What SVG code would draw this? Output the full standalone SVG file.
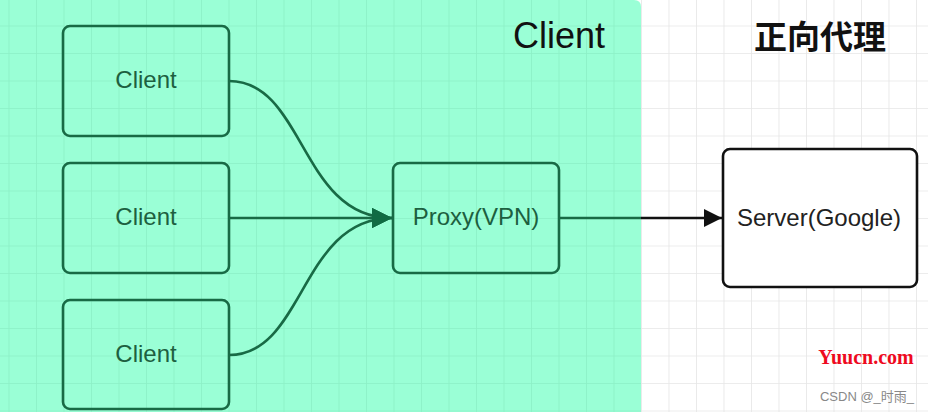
<svg xmlns="http://www.w3.org/2000/svg" width="928" height="412" viewBox="0 0 928 412">
<defs>
<pattern id="gridW" patternUnits="userSpaceOnUse" x="8.5" y="-2" width="27.5" height="27.5">
<path d="M0,0 V27.5 M0,0 H27.5" stroke="#e6e6e6" stroke-width="1.6" fill="none"/>
</pattern>
<pattern id="gridG" patternUnits="userSpaceOnUse" x="8.5" y="-2" width="27.5" height="27.5">
<path d="M0,0 V27.5 M0,0 H27.5" stroke="#8cf0c6" stroke-width="1.6" fill="none"/>
</pattern>
<marker id="arrG" viewBox="0 0 10 10" refX="10" refY="5" markerUnits="userSpaceOnUse" markerWidth="22" markerHeight="20" orient="auto">
<path d="M0,0 L10,5 L0,10 z" fill="#106b43"/>
</marker>
<marker id="arrK" viewBox="0 0 10 10" refX="10" refY="5" markerUnits="userSpaceOnUse" markerWidth="22" markerHeight="18" orient="auto">
<path d="M0,0 L10,5 L0,10 z" fill="#111"/>
</marker>
<style>
.node rect.g{fill:none;stroke:#186a45;stroke-width:2.6}
.node rect.k{fill:#fff;stroke:#111;stroke-width:2.6}
.lbl{font-family:"Liberation Sans",Arial,sans-serif;font-size:24px;text-anchor:middle}
.lg{fill:#1d5f40}
.lk{fill:#222}
.conn path{fill:none;stroke-width:2.6}
</style>
</defs>
<rect x="0" y="0" width="928" height="412" fill="#fff"/>
<rect x="0" y="0" width="928" height="412" fill="url(#gridW)"/>
<path d="M0,0 H634 Q641,0 641,7 V412 H0 z" fill="#9affd6"/>
<path d="M0,0 H634 Q641,0 641,7 V412 H0 z" fill="url(#gridG)"/>
<text x="559" y="48" font-family="'Liberation Sans',Arial,sans-serif" font-size="36" fill="#111" text-anchor="middle">Client</text>
<text x="820" y="49" font-family="'Noto Sans CJK SC',sans-serif" font-size="33" font-weight="bold" fill="#111" text-anchor="middle">正向代理</text>
<g class="conn">
<path d="M229,81 C305,81 300,218 392,218" stroke="#186a45" marker-end="url(#arrG)"/>
<path d="M229,218 H392" stroke="#186a45" marker-end="url(#arrG)"/>
<path d="M229,355 C305,355 300,218 392,218" stroke="#186a45" marker-end="url(#arrG)"/>
<path d="M559,218 H641" stroke="#186a45"/>
<path d="M641,218 H722" stroke="#111" marker-end="url(#arrK)"/>
</g>
<g id="client1" class="node"><rect class="g" x="63" y="26" width="166" height="110" rx="7"/><text class="lbl lg" x="146" y="88">Client</text></g>
<g id="client2" class="node"><rect class="g" x="63" y="163" width="166" height="110" rx="7"/><text class="lbl lg" x="146" y="225">Client</text></g>
<g id="client3" class="node"><rect class="g" x="63" y="300" width="166" height="109" rx="7"/><text class="lbl lg" x="146" y="362">Client</text></g>
<g id="proxy" class="node"><rect class="g" x="393" y="163" width="166" height="110" rx="7"/><text class="lbl lg" x="476" y="225">Proxy(VPN)</text></g>
<g id="server" class="node"><rect class="k" x="723" y="149" width="194" height="138" rx="7"/><text class="lbl lk" x="819" y="226">Server(Google)</text></g>
<text x="866" y="364" font-family="'Liberation Serif',serif" font-size="20" font-weight="bold" fill="#ee0a1e" text-anchor="middle">Yuucn.com</text>
<text x="867" y="401" font-family="'Liberation Sans','Noto Sans CJK SC',sans-serif" font-size="13" fill="#888" text-anchor="middle">CSDN @_时雨_</text>
</svg>
